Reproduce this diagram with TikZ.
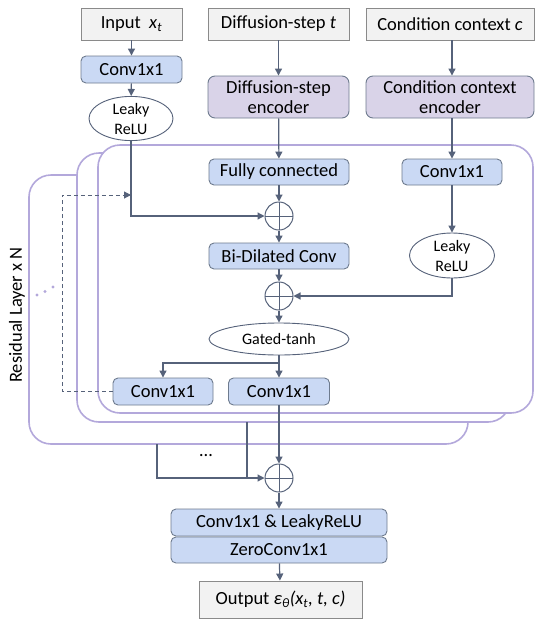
\documentclass[tikz,border=0pt]{standalone}
\usepackage{fontspec}
\setmainfont{Carlito}
\usetikzlibrary{arrows.meta,shapes.geometric,calc}
\definecolor{ln}{HTML}{56627A}
\definecolor{grayf}{HTML}{F2F2F2}
\definecolor{bordg}{HTML}{8A8A8A}
\definecolor{bluef}{HTML}{CAD9F4}
\definecolor{bordb}{HTML}{6E7B8E}
\definecolor{purf}{HTML}{D9D3E8}
\definecolor{lav}{HTML}{B3A8DB}
\tikzset{
  conn/.style={draw=ln, line width=1.2pt},
  arr/.style={conn, -{Triangle[length=7pt,width=7pt]}},
  graybox/.style={draw=bordg, fill=grayf, line width=0.9pt, minimum height=32pt, inner sep=0pt, font=\fontsize{18.5}{20}\selectfont},
  bluebox/.style={draw=bordb, fill=bluef, rounded corners=5pt, line width=0.9pt, minimum height=27pt, inner sep=0pt, font=\fontsize{18.5}{20}\selectfont},
  purbox/.style={draw=bordb, fill=purf, rounded corners=7pt, line width=0.9pt, minimum height=42pt, inner sep=0pt, align=center, font=\fontsize{18.5}{20}\selectfont},
  ell/.style={ellipse, draw=ln, fill=white, line width=0.9pt, inner sep=0pt, align=center, font=\fontsize{16}{20}\selectfont},
  plus/.style={circle, draw=ln, fill=white, line width=1pt, minimum size=28pt, inner sep=0pt,
    path picture={\draw[ln, line width=1pt] (path picture bounding box.north) -- (path picture bounding box.south)
      (path picture bounding box.west) -- (path picture bounding box.east);}},
  layer/.style={draw=lav, fill=white, line width=1.6pt, rounded corners=22pt},
}
\begin{document}
\begin{tikzpicture}[x=1pt,y=-1pt]
\useasboundingbox (0,0) rectangle (535,619);
% residual layers
\draw[layer] (29,175) rectangle (468,444);
\draw[layer] (77,153) rectangle (510,422);
\draw[layer] (98,145) rectangle (533,413);
\node[rotate=90, font=\fontsize{18.5}{20}\selectfont] (rl) at (17,315) {Residual Layer x N};
\fill[lav] (37,295) circle (1.6pt) (45,291.5) circle (1.6pt) (53,287) circle (1.6pt);

% top inputs
\node[graybox, minimum width=101pt] (inp) at (131.5,24) {Input\ \ \textit{x}\textsubscript{\textit{t}}};
\node[graybox, minimum width=141pt] (diff) at (278.5,24) {Diffusion-step \textit{t}};
\node[graybox, minimum width=168pt] (cond) at (450,24) {Condition context \textit{c}};

\node[bluebox, minimum width=101pt] (conv0) at (131.5,69.5) {Conv1x1};
\node[ell, minimum width=84pt, minimum height=37pt] (lrelu0) at (131,118.5) {Leaky\\ReLU};
\node[purbox, minimum width=141pt] (denc) at (278.5,97) {Diffusion-step\\encoder};
\node[purbox, minimum width=168pt] (cenc) at (450,97) {Condition context\\encoder};

\node[bluebox, minimum width=140pt, minimum height=26pt] (fc) at (279,172) {Fully connected};
\node[bluebox, minimum width=100pt, minimum height=26pt] (conv1) at (452,172) {Conv1x1};
\node[plus] (plus1) at (279,216) {};
\node[bluebox, minimum width=140pt, minimum height=26pt] (bdc) at (279,256) {Bi-Dilated Conv};
\node[ell, minimum width=85pt, minimum height=45pt] (lrelu1) at (452,255.5) {Leaky\\ReLU};
\node[plus] (plus2) at (279,296) {};
\node[ell, minimum width=140pt, minimum height=32pt] (gated) at (279,339) {Gated-tanh};
\node[bluebox, minimum width=100pt] (conv2) at (163,391.5) {Conv1x1};
\node[bluebox, minimum width=101pt] (conv3) at (279,391.5) {Conv1x1};

\node[plus] (plus3) at (279,478) {};
\node[bluebox, minimum width=216pt, minimum height=27pt] (cl) at (279,522.5) {Conv1x1 \& LeakyReLU};
\node[bluebox, minimum width=216pt, minimum height=26pt] (zc) at (279,550) {ZeroConv1x1};
\node[graybox, minimum width=163pt, minimum height=37pt] (out) at (280.5,599.5) {Output \textit{ε\textsubscript{θ}(x\textsubscript{t}, t, c)}};
\node[font=\fontsize{18.5}{20}\selectfont] (dots) at (206,456) {\dots};

% coordinates
\coordinate (dc) at (62,195);
\coordinate (dend) at (131,195);
\coordinate (split) at (279,363);
\coordinate (s1) at (157,444);
\coordinate (s2) at (247,422);
\coordinate (s2b) at (247,478);

% connectors
\draw[arr] (inp) -- (conv0);
\draw[arr] (conv0) -- (lrelu0);
\draw[arr] (lrelu0.south) |- (plus1.west);
\draw[arr, dashed, line width=1pt, dash pattern=on 4pt off 3pt] (conv2.west) -| (dc) -- (dend);
\draw[arr] (diff) -- (denc);
\draw[arr] (denc) -- (fc);
\draw[arr] (fc) -- (plus1);
\draw[arr] (plus1) -- (bdc);
\draw[arr] (bdc) -- (plus2);
\draw[arr] (plus2) -- (gated);
\draw[arr] (cond.south -| conv1.north) -- (cenc.north -| conv1.north);
\draw[arr] (cenc.south -| conv1.north) -- (conv1.north);
\draw[arr] (conv1) -- (lrelu1);
\draw[arr] (lrelu1.south) |- (plus2.east);
\draw[arr] (gated.south) -- (conv3.north);
\draw[arr] (split) -| (conv2.north);
\draw[arr] (conv3) -- (plus3);
\draw[arr] (s1) |- (plus3.west);
\draw[conn] (s2) -- (s2b);
\draw[arr] (plus3) -- (cl);
\draw[arr] (zc) -- (out);
\end{tikzpicture}
\end{document}
